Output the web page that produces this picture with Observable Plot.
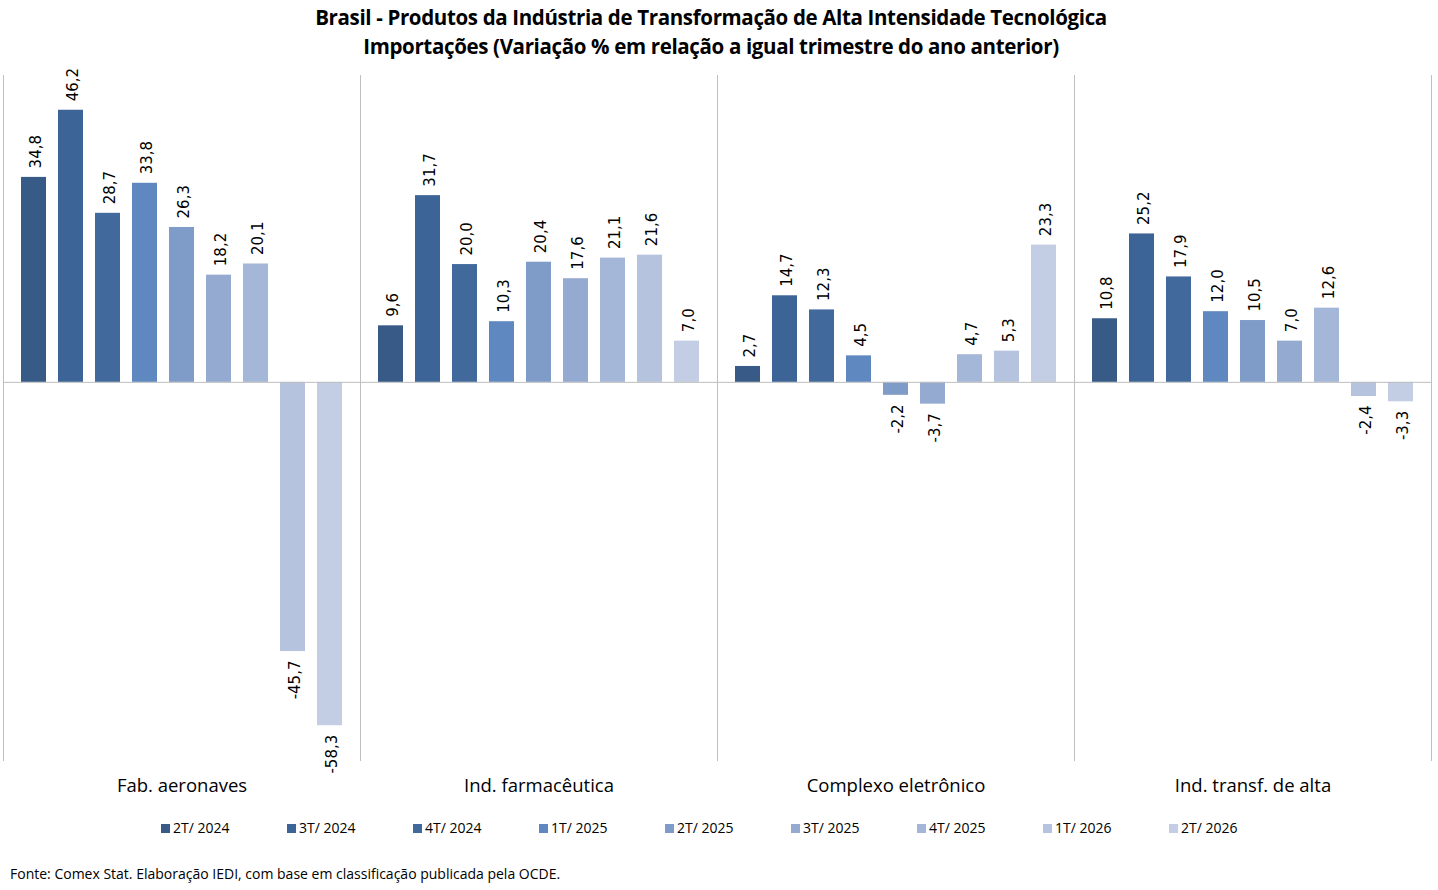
<!DOCTYPE html>
<html>
<head>
<meta charset="utf-8">
<script src="https://cdn.jsdelivr.net/npm/d3@7"></script>
<script src="https://cdn.jsdelivr.net/npm/@observablehq/plot@0.6"></script>
<style>
  body { margin: 0; background: #fff; width: 1438px; height: 890px; overflow: hidden; font-family: "Open Sans", "Noto Sans", sans-serif; }
  #title { position: absolute; left: 0; top: 3px; width: 1422px; text-align: center; font-weight: 700; font-size: 20.5px; line-height: 29px; color: #000; letter-spacing: -0.35px; }
  #chart { position: absolute; left: 0; top: 62px; }
  #legend { position: absolute; top: 818px; left: 0; width: 1438px; height: 20px; font-size: 14px; color: #000; }
  .li { position: absolute; top: 0; white-space: nowrap; line-height: 20px; }
  .sw { display: inline-block; width: 9px; height: 9px; margin-right: 3px; vertical-align: 0px; }
  #footer { position: absolute; left: 10px; top: 864px; font-size: 14px; color: #000; }
</style>
</head>
<body>
<div id="title">Brasil - Produtos da Indústria de Transformação de Alta Intensidade Tecnológica<br>Importações (Variação % em relação a igual trimestre do ano anterior)</div>
<div id="chart"></div>
<div id="legend"></div>
<div id="footer">Fonte: Comex Stat. Elaboração IEDI, com base em classificação publicada pela OCDE.</div>
<script>
const groups = ["Fab. aeronaves", "Ind. farmacêutica", "Complexo eletrônico", "Ind. transf. de alta"];
const series = ["2T/ 2024", "3T/ 2024", "4T/ 2024", "1T/ 2025", "2T/ 2025", "3T/ 2025", "4T/ 2025", "1T/ 2026", "2T/ 2026"];
const colors = ["#375a87", "#3d6497", "#42699c", "#6088c0", "#7f9cc8", "#95aad0", "#a5b7d8", "#b5c3df", "#c3cde3"];
const aeronaves    = [34.8, 46.2, 28.7, 33.8, 26.3, 18.2, 20.1, -45.7, -58.3];
const farmaceutica = [9.6, 31.7, 20.0, 10.3, 20.4, 17.6, 21.1, 21.6, 7.0];
const eletronico   = [2.7, 14.7, 12.3, 4.5, -2.2, -3.7, 4.7, 5.3, 23.3];
const transfAlta   = [10.8, 25.2, 17.9, 12.0, 10.5, 7.0, 12.6, -2.4, -3.3];

const valuesByGroup = [aeronaves, farmaceutica, eletronico, transfAlta];
const data = [];
groups.forEach((g, gi) => series.forEach((s, si) => data.push({group: g, series: s, value: valuesByGroup[gi][si]})));
const fmt = v => v.toFixed(1).replace(".", ",");

const chart = Plot.plot({
  width: 1438,
  height: 745,
  marginTop: 13,
  marginBottom: 47,
  marginLeft: 1,
  marginRight: 6,
  style: {fontFamily: "DejaVu Sans, sans-serif", background: "transparent"},
  fx: {domain: groups, padding: 0, label: null, axis: "bottom", tickSize: 0, tickPadding: 18},
  x: {domain: series, paddingInner: 0.324, paddingOuter: 0.486, axis: null},
  y: {domain: [-64.2, 52.1], axis: null},
  color: {domain: series, range: colors},
  marks: [
    Plot.barY(data, {fx: "group", x: "series", y: "value", fill: "series"}),
    Plot.frame({anchor: "left", stroke: "#bfbfbf"}),
    Plot.frame({anchor: "right", stroke: "#bfbfbf"}),
    Plot.ruleY([0], {stroke: "#bfbfbf"}),
    Plot.text(data.filter(d => d.value >= 0), {fx: "group", x: "series", y: "value", text: d => fmt(d.value), rotate: -90, textAnchor: "start", dy: -9, dx: 2, fontSize: 15, fill: "#000"}),
    Plot.text(data.filter(d => d.value < 0), {fx: "group", x: "series", y: "value", text: d => fmt(d.value), rotate: -90, textAnchor: "end", dy: 9, dx: 2, fontSize: 15, fill: "#000"})
  ]
});
d3.select(chart).selectAll("g[aria-label='fx-axis tick label'] text, g[aria-label='fx-axis tick label']")
  .style("font-family", "'Open Sans', 'Noto Sans', sans-serif").style("font-size", "18.5px").attr("fill", "#000");
document.getElementById("chart").appendChild(chart);

const legend = document.getElementById("legend");
series.forEach((s, i) => {
  const item = document.createElement("div");
  item.className = "li";
  item.style.left = (161 + i * 126) + "px";
  item.innerHTML = `<span class="sw" style="background:${colors[i]}"></span>${s}`;
  legend.appendChild(item);
});
</script>
</body>
</html>
